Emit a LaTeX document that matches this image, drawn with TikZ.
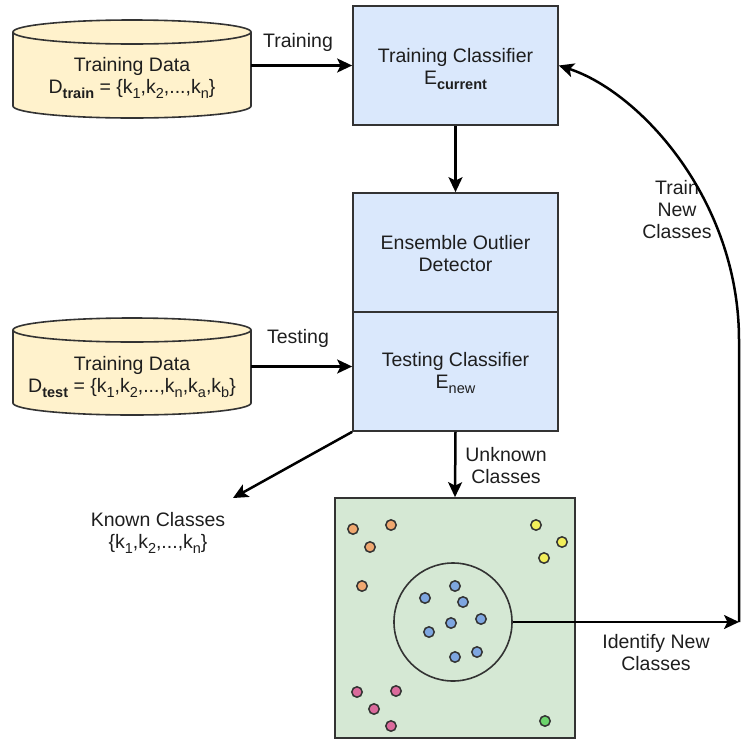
\documentclass[tikz,border=0pt]{standalone}
\usepackage{fontspec}
\setmainfont{Liberation Sans}
\usetikzlibrary{arrows.meta}
\definecolor{cylfill}{HTML}{FFF2CC}
\definecolor{boxfill}{HTML}{DAE8FC}
\definecolor{greenfill}{HTML}{D5E8D4}
\definecolor{txt}{HTML}{1E1E1E}
\definecolor{edge}{HTML}{333333}
\definecolor{dotorange}{HTML}{F0A870}
\definecolor{dotyellow}{HTML}{F2EE5A}
\definecolor{dotblue}{HTML}{7EA6E0}
\definecolor{dotpink}{HTML}{DB6A9C}
\definecolor{dotgreen}{HTML}{6CD46C}
\newcommand{\mysub}[1]{\raisebox{-0.3em}{\fontsize{14.5}{15}\selectfont #1}}
\tikzset{
  box/.style={draw=edge, line width=1.7pt, fill=boxfill, minimum width=205pt, minimum height=119pt, inner sep=0pt},
  lbl/.style={align=center, inner sep=0pt, text=txt},
  cyl/.style={draw=edge, line width=1.6pt, fill=cylfill},
  cylline/.style={draw=edge, line width=1.6pt},
  arr/.style={line width=2.5pt, draw=black, -{Stealth[length=15pt,width=14pt,inset=3.5pt]}},
  dot/.style={draw=edge, line width=1.5pt, fill=#1},
}
\begin{document}
\begin{tikzpicture}[x=1pt,y=1pt,font=\fontsize{19.5}{22}\selectfont]
\useasboundingbox (0,0) rectangle (740,-745);

% cylinder 1
\path[cyl] (13,-32) -- (13,-106) arc[start angle=180,end angle=360,x radius=119,y radius=12] -- (251,-32) arc[start angle=0,end angle=180,x radius=119,y radius=12] -- cycle;
\draw[cylline] (13,-32) arc[start angle=180,end angle=360,x radius=119,y radius=12];
\node[inner sep=0pt, minimum width=238pt, minimum height=98pt] (cyl1) at (132,-69) {};
\node[lbl] (cyl1t) at (132,-78) {Training Data\\D\mysub{\bfseries train} = \{k\mysub{1},k\mysub{2},...,k\mysub{n}\}};

% cylinder 2
\path[cyl] (13,-330) -- (13,-403) arc[start angle=180,end angle=360,x radius=119,y radius=12] -- (251,-330) arc[start angle=0,end angle=180,x radius=119,y radius=12] -- cycle;
\draw[cylline] (13,-330) arc[start angle=180,end angle=360,x radius=119,y radius=12];
\node[inner sep=0pt, minimum width=238pt, minimum height=97pt] (cyl2) at (132,-366.5) {};
\node[lbl] (cyl2t) at (132,-377) {Training Data\\D\mysub{\bfseries test} = \{k\mysub{1},k\mysub{2},...,k\mysub{n},k\mysub{a},k\mysub{b}\}};

% boxes
\node[box] (tc) at (455.5,-65.5) {};
\node[lbl] (tct) at (455.5,-69) {Training Classifier\\E\mysub{\bfseries current}};
\node[box] (eo) at (455.5,-252.5) {};
\node[lbl] (eot) at (455.5,-254) {Ensemble Outlier\\Detector};
\node[box] (ts) at (455.5,-371.5) {};
\node[lbl] (tst) at (455.5,-373) {Testing Classifier\\E\mysub{new}};

% green box
\node[draw=edge, line width=1.7pt, fill=greenfill, minimum width=240pt, minimum height=240pt, inner sep=0pt] (gb) at (455,-618) {};
\node[circle, draw=edge, line width=1.6pt, minimum size=118pt, inner sep=0pt] (circ) at (453,-622) {};

% dots
\foreach \x/\y in {353/529, 391/525, 370/547, 362/586}
  \draw[dot=dotorange] (\x,-\y) circle (5.2);
\foreach \x/\y in {536/525, 562/542, 544/558}
  \draw[dot=dotyellow] (\x,-\y) circle (5.2);
\foreach \x/\y in {455/586, 425/598, 463/602, 481/619, 451/623, 429/632, 477/652, 455/657}
  \draw[dot=dotblue] (\x,-\y) circle (5.2);
\foreach \x/\y in {357/692, 396/691, 374/709, 391/726}
  \draw[dot=dotpink] (\x,-\y) circle (5.2);
\draw[dot=dotgreen] (545,-721) circle (5.2);

% labels
\node[lbl] (ltrain) at (298,-42) {Training};
\node[lbl] (ltest) at (298,-338) {Testing};
\node[lbl] (lunk) at (506,-466) {Unknown\\Classes};
\node[lbl] (lknown) at (158,-533) {Known Classes\\\{k\mysub{1},k\mysub{2},...,k\mysub{n}\}};
\node[lbl] (lident) at (656,-653) {Identify New\\Classes};
\node[lbl] (lnew) at (677,-210) {Train\\New\\Classes};

% coordinates
\coordinate (kc) at (233,-498);
\coordinate (R) at (739,-622);

% connectors
\draw[arr] (cyl1.east |- tc.west) -- (tc.west);
\draw[arr] (cyl2.east) -- (cyl2.east -| ts.west);
\draw[arr] (tc.south) -- (eo.north);
\draw[arr] (ts.south) -- (gb.north);
\draw[arr] (ts.south west) -- (kc);
\draw[arr] (circ.east) -- (R);
\draw[arr] (R) -- (739,-340) .. controls (739,-200) and (640,-92) .. (tc.east);
\end{tikzpicture}
\end{document}
